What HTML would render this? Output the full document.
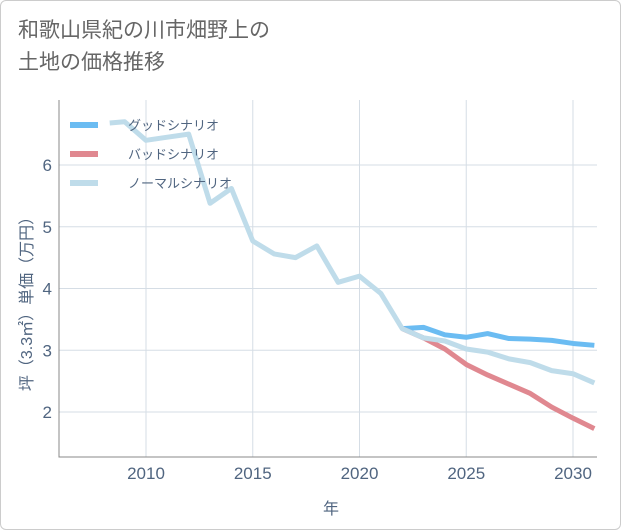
<!DOCTYPE html>
<html><head><meta charset="utf-8"><style>
body{margin:0;background:#fff;}
#wrap{position:relative;width:619px;height:528px;border:1px solid #ccc;border-radius:6px;background:#fff;overflow:hidden;font-family:"Liberation Sans","Noto Sans CJK JP",sans-serif;}
#title{position:absolute;left:17px;top:14px;font-size:21px;line-height:32px;color:#666;}
</style></head><body>
<div id="wrap">
<div id="title">和歌山県紀の川市畑野上の<br>土地の価格推移</div>
<svg id="chart" width="621" height="530" style="position:absolute;left:-1px;top:-1px"></svg>
</div>
<script>
const xTicks=[2010,2015,2020,2025,2030];
const yTicks=[2,3,4,5,6];
const normalYears=[2008.3,2009,2010,2011,2012,2013,2014,2015,2016,2017,2018,2019,2020,2021,2022,2023,2024,2025,2026,2027,2028,2029,2030,2031];
const normalVals=[6.68,6.7,6.4,6.45,6.5,5.38,5.62,4.77,4.56,4.5,4.69,4.1,4.2,3.92,3.35,3.2,3.15,3.02,2.97,2.86,2.8,2.67,2.62,2.47];
const futureYears=[2022,2023,2024,2025,2026,2027,2028,2029,2030,2031];
const goodVals=[3.35,3.37,3.25,3.21,3.27,3.19,3.18,3.16,3.11,3.08];
const badVals=[3.35,3.2,3.02,2.77,2.6,2.45,2.3,2.08,1.9,1.73];
const legendLabels=["グッドシナリオ","バッドシナリオ","ノーマルシナリオ"];
const X0=59,X1=597,Y0=100,Y1=457;
const xs=y=>146+(y-2010)*21.35;
const ys=v=>165-(v-6)*61.75;
const svg=document.getElementById('chart');
const NS='http://www.w3.org/2000/svg';
function mk(t,a){const e=document.createElementNS(NS,t);for(const k in a)e.setAttribute(k,a[k]);svg.appendChild(e);return e;}
const cp=mk('clipPath',{id:'cp'});
const cr=document.createElementNS(NS,'rect');cr.setAttribute('x',X0);cr.setAttribute('y',Y0);cr.setAttribute('width',X1-X0);cr.setAttribute('height',Y1-Y0);cp.appendChild(cr);
xTicks.forEach(t=>{
 const l=mk('line',{x1:xs(t),x2:xs(t),y1:Y0,y2:Y1,stroke:'#d5dde5','stroke-width':1});
 
 
 const tx=mk('text',{x:xs(t),y:479,'text-anchor':'middle','font-size':17,fill:'#506580'});
 tx.textContent=t;
 
 
});
yTicks.forEach(t=>{
 const l=mk('line',{x1:X0,x2:X1,y1:ys(t),y2:ys(t),stroke:'#d5dde5','stroke-width':1});
 
 
 const tx=mk('text',{x:52,y:ys(t)+6,'text-anchor':'end','font-size':17,fill:'#506580'});
 tx.textContent=t;
 
 
});
const ax=mk('polyline',{points:`${X0},${Y0} ${X0},${Y1} ${X1},${Y1}`,fill:'none',stroke:'#888','stroke-width':1});


function series(yrs,vals,color,name){
 const p=mk('polyline',{points:yrs.map((y,i)=>xs(y)+','+ys(vals[i])).join(' '),fill:'none',stroke:color,'stroke-width':5,'stroke-linejoin':'round','clip-path':'url(#cp)'});
 
 
}
series(futureYears,goodVals,'#6bbcf2','good-scenario-line');
series(futureYears,badVals,'#e08890','bad-scenario-line');
series(normalYears,normalVals,'#bfdcea','normal-scenario-line');
const lc=['#6bbcf2','#e08890','#bfdcea'];
legendLabels.forEach((s,i)=>{
 const y=125+i*29;
 const l=mk('line',{x1:70,x2:98,y1:y,y2:y,stroke:lc[i],'stroke-width':6});
 
 
 const t=mk('text',{x:128,y:y+5,'font-size':13,fill:'#506580'});
 t.textContent=s;
 
 
});
const xt=mk('text',{x:331,y:514,'text-anchor':'middle','font-size':16,fill:'#506580'});
xt.textContent='年';


const yt=mk('text',{x:0,y:0,'text-anchor':'middle','font-size':16,fill:'#506580',transform:'translate(32,300) rotate(-90)'});
yt.textContent='坪（3.3㎡）単価（万円）';


</script>
</body></html>
